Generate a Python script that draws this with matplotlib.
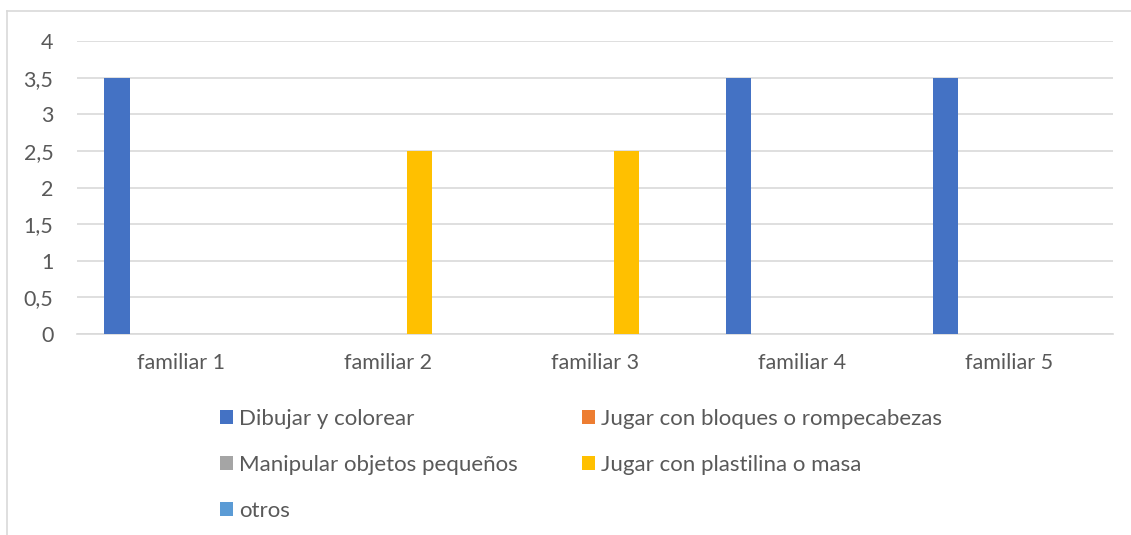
import numpy as np
import matplotlib.pyplot as plt
from matplotlib.lines import Line2D

plt.rcParams['font.family'] = ['Lato', 'DejaVu Sans']

# Data
categories = ['familiar 1', 'familiar 2', 'familiar 3', 'familiar 4', 'familiar 5']
series_names = ['Dibujar y colorear', 'Jugar con bloques o rompecabezas',
                'Manipular objetos pequeños', 'Jugar con plastilina o masa', 'otros']
dibujar = [3.5, 0, 0, 3.5, 3.5]
bloques = [0, 0, 0, 0, 0]
manipular = [0, 0, 0, 0, 0]
plastilina = [0, 2.5, 2.5, 0, 0]
otros = [0, 0, 0, 0, 0]
colors = ['#4472C4', '#ED7D31', '#A5A5A5', '#FFC000', '#5B9BD5']
yticks = [0, 0.5, 1, 1.5, 2, 2.5, 3, 3.5, 4]
ytick_labels = ['0', '0,5', '1', '1,5', '2', '2,5', '3', '3,5', '4']

all_series = [dibujar, bloques, manipular, plastilina, otros]
text_color = '#595959'
grid_color = '#D9D9D9'

fig = plt.figure(figsize=(11.31, 5.35), dpi=100)
ax = fig.add_axes([77 / 1131, 1 - 334 / 535, (1113 - 77) / 1131, (334 - 41) / 535])

x = np.arange(len(categories))
step = 0.1535
width = 0.121
handles = []
for i, (vals, name, c) in enumerate(zip(all_series, series_names, colors)):
    b = ax.bar(x + (i - 2) * step, vals, width, color=c, label=name, zorder=3)
    handles.append(b)

ax.set_xlim(-0.5, len(categories) - 0.5)
ax.set_ylim(0, 4)
ax.set_yticks(yticks)
ax.set_yticklabels(ytick_labels)
ax.set_xticks(x)
ax.set_xticklabels(categories)
ax.tick_params(axis='both', length=0, labelsize=15.5, labelcolor=text_color)
ax.tick_params(axis='y', pad=17)
ax.tick_params(axis='x', pad=14)
ax.yaxis.grid(True, color=grid_color, linewidth=1.2, zorder=0)
for s in ['top', 'right', 'left']:
    ax.spines[s].set_visible(False)
ax.spines['bottom'].set_color(grid_color)
ax.spines['bottom'].set_linewidth(1.2)

# legend: two columns, filled column-wise
order = [0, 2, 4, 1, 3]
leg = fig.legend([handles[k] for k in order], [series_names[k] for k in order],
                 ncol=2, loc='upper left', bbox_to_anchor=(200 / 1131, 1 - 389 / 535),
                 frameon=False, fontsize=16, labelcolor=text_color,
                 handlelength=0.585, handleheight=0.585, handletextpad=0.27,
                 labelspacing=1.17, columnspacing=2.9)

# outer chart border (top and left visible)
fig.add_artist(Line2D([7 / 1131, 1], [1 - 11 / 535, 1 - 11 / 535], color=grid_color, lw=1.2))
fig.add_artist(Line2D([7 / 1131, 7 / 1131], [0, 1 - 11 / 535], color=grid_color, lw=1.2))

fig.savefig('out.png', dpi=100)
